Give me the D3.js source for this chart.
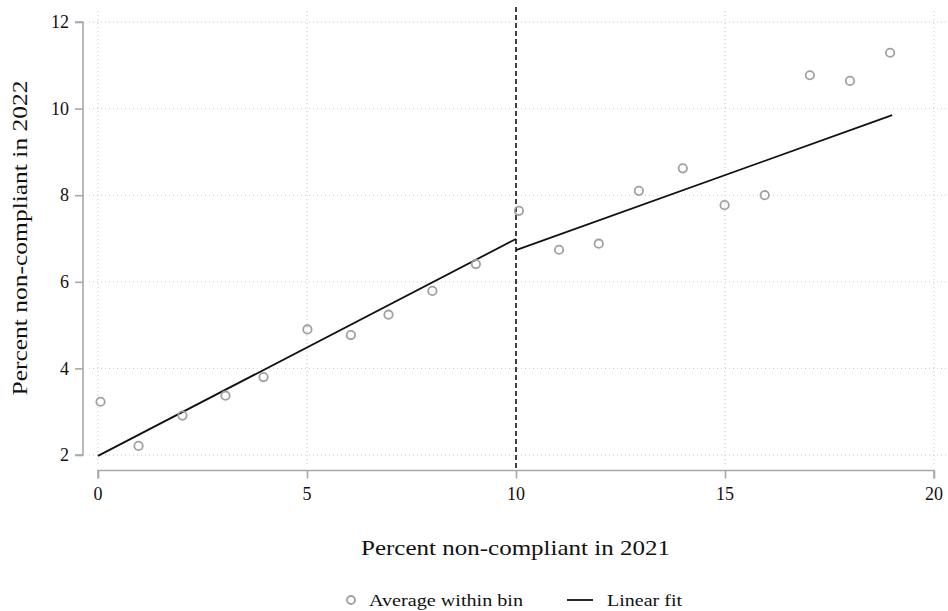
<!DOCTYPE html>
<html>
<head>
<meta charset="utf-8">
<script src="https://cdn.jsdelivr.net/npm/d3@7"></script>
<style>
  html, body { margin: 0; padding: 0; background: #fff; }
  svg { display: block; font-family: "Liberation Serif", "DejaVu Serif", serif; }
  .lbl { font-family: "Liberation Serif", "DejaVu Serif", serif; }
</style>
</head>
<body>
<svg id="chart" width="948" height="611"></svg>
<script>
// ---- data ----
const binX = [0.06, 0.97, 2.02, 3.05, 3.96, 5.01, 6.05, 6.95, 8.0, 9.04, 10.07, 11.03, 11.98, 12.94, 13.99, 14.99, 15.95, 17.03, 17.99, 18.95];
const binY = [3.23, 2.21, 2.91, 3.37, 3.80, 4.90, 4.77, 5.24, 5.79, 6.41, 7.64, 6.74, 6.88, 8.10, 8.62, 7.77, 8.00, 10.77, 10.64, 11.29];
const fitLeftX = [0, 10];
const fitLeftY = [1.98, 6.99];
const fitRightX = [10, 19.0];
const fitRightY = [6.73, 9.85];
const cutoff = 10;
const xTicks = [0, 5, 10, 15, 20];
const yTicks = [2, 4, 6, 8, 10, 12];
const xTitle = "Percent non-compliant in 2021";
const yTitle = "Percent non-compliant in 2022";
const legendLabels = ["Average within bin", "Linear fit"];

// ---- layout ----
const svg = d3.select("#chart");
const x = d3.scaleLinear().domain([0, 20]).range([98, 934]);
const y = d3.scaleLinear().domain([2, 12]).range([455, 22]);
const axisColor = "#a8a8a8";
const gridColor = "#c8c8c8";
const pointColor = "#a0a0a0";

// grid
const grid = svg.append("g");
grid.selectAll("line.h").data(yTicks).join("line")
  .attr("x1", 89).attr("x2", 948)
  .attr("y1", d => y(d)).attr("y2", d => y(d))
  .attr("stroke", gridColor).attr("stroke-width", 1).attr("stroke-dasharray", "1,3");
grid.selectAll("line.v").data(xTicks).join("line")
  .attr("x1", d => x(d)).attr("x2", d => x(d))
  .attr("y1", 11).attr("y2", 466)
  .attr("stroke", gridColor).attr("stroke-width", 1).attr("stroke-dasharray", "1,3");

// y axis (lines via d3.axis, labels drawn separately)
const yAxis = d3.axisLeft(y).tickValues(yTicks).tickSize(8).tickFormat(() => "");
const gy = svg.append("g").attr("transform", "translate(83,0)").call(yAxis);
gy.select(".domain").attr("stroke", axisColor).attr("stroke-width", 1.6).attr("d", `M-8,${y(12)}H0V${y(2)}H-8`);
gy.selectAll(".tick line").attr("stroke", axisColor).attr("stroke-width", 1.6);
svg.append("g").selectAll("text").data(yTicks).join("text")
  .attr("class", "lbl")
  .attr("x", 69).attr("y", d => y(d)).attr("dy", "0.34em")
  .attr("text-anchor", "end").attr("font-size", 18).attr("fill", "#111")
  .text(d => d3.format("d")(d));

// x axis
const xAxis = d3.axisBottom(x).tickValues(xTicks).tickSize(8).tickFormat(() => "");
const gx = svg.append("g").attr("transform", "translate(0,470.5)").call(xAxis);
gx.select(".domain").attr("stroke", axisColor).attr("stroke-width", 1.6).attr("d", `M${x(0)},8V0H${x(20)}V8`);
gx.selectAll(".tick line").attr("stroke", axisColor).attr("stroke-width", 1.6);
svg.append("g").selectAll("text").data(xTicks).join("text")
  .attr("class", "lbl")
  .attr("x", d => x(d)).attr("y", 500)
  .attr("text-anchor", "middle").attr("font-size", 18).attr("fill", "#111")
  .text(d => d3.format("d")(d));

// cutoff dashed line
svg.append("line")
  .attr("x1", x(cutoff)).attr("x2", x(cutoff))
  .attr("y1", 7).attr("y2", 470)
  .attr("stroke", "#111").attr("stroke-width", 1.6).attr("stroke-dasharray", "5,3");

// fit lines
const line = d3.line().x(d => x(d[0])).y(d => y(d[1]));
[[fitLeftX, fitLeftY], [fitRightX, fitRightY]].forEach(([xs, ys]) => {
  svg.append("path")
    .attr("d", line(xs.map((v, i) => [v, ys[i]])))
    .attr("fill", "none").attr("stroke", "#111").attr("stroke-width", 1.8);
});

// points
svg.append("g").selectAll("circle").data(binX.map((v, i) => [v, binY[i]])).join("circle")
  .attr("cx", d => x(d[0])).attr("cy", d => y(d[1])).attr("r", 4.2)
  .attr("fill", "none").attr("stroke", pointColor).attr("stroke-width", 1.8);

// titles
svg.append("text").attr("class", "lbl").attr("x", 515.5).attr("y", 555)
  .attr("text-anchor", "middle").attr("font-size", 22).attr("fill", "#111")
  .attr("textLength", 309).attr("lengthAdjust", "spacingAndGlyphs")
  .text(xTitle);
svg.append("text").attr("class", "lbl").attr("transform", "translate(27,238) rotate(-90)")
  .attr("text-anchor", "middle").attr("font-size", 22).attr("fill", "#111")
  .attr("textLength", 315).attr("lengthAdjust", "spacingAndGlyphs")
  .text(yTitle);

// legend
const lg = svg.append("g");
lg.append("circle").attr("cx", 351).attr("cy", 600).attr("r", 4)
  .attr("fill", "none").attr("stroke", pointColor).attr("stroke-width", 1.8);
lg.append("text").attr("class", "lbl").attr("x", 369).attr("y", 605.5).attr("font-size", 17).attr("fill", "#111")
  .attr("textLength", 154).attr("lengthAdjust", "spacingAndGlyphs").text(legendLabels[0]);
lg.append("line").attr("x1", 567).attr("x2", 593).attr("y1", 600).attr("y2", 600)
  .attr("stroke", "#111").attr("stroke-width", 1.8);
lg.append("text").attr("class", "lbl").attr("x", 607).attr("y", 605.5).attr("font-size", 17).attr("fill", "#111")
  .attr("textLength", 75).attr("lengthAdjust", "spacingAndGlyphs").text(legendLabels[1]);
</script>
</body>
</html>
